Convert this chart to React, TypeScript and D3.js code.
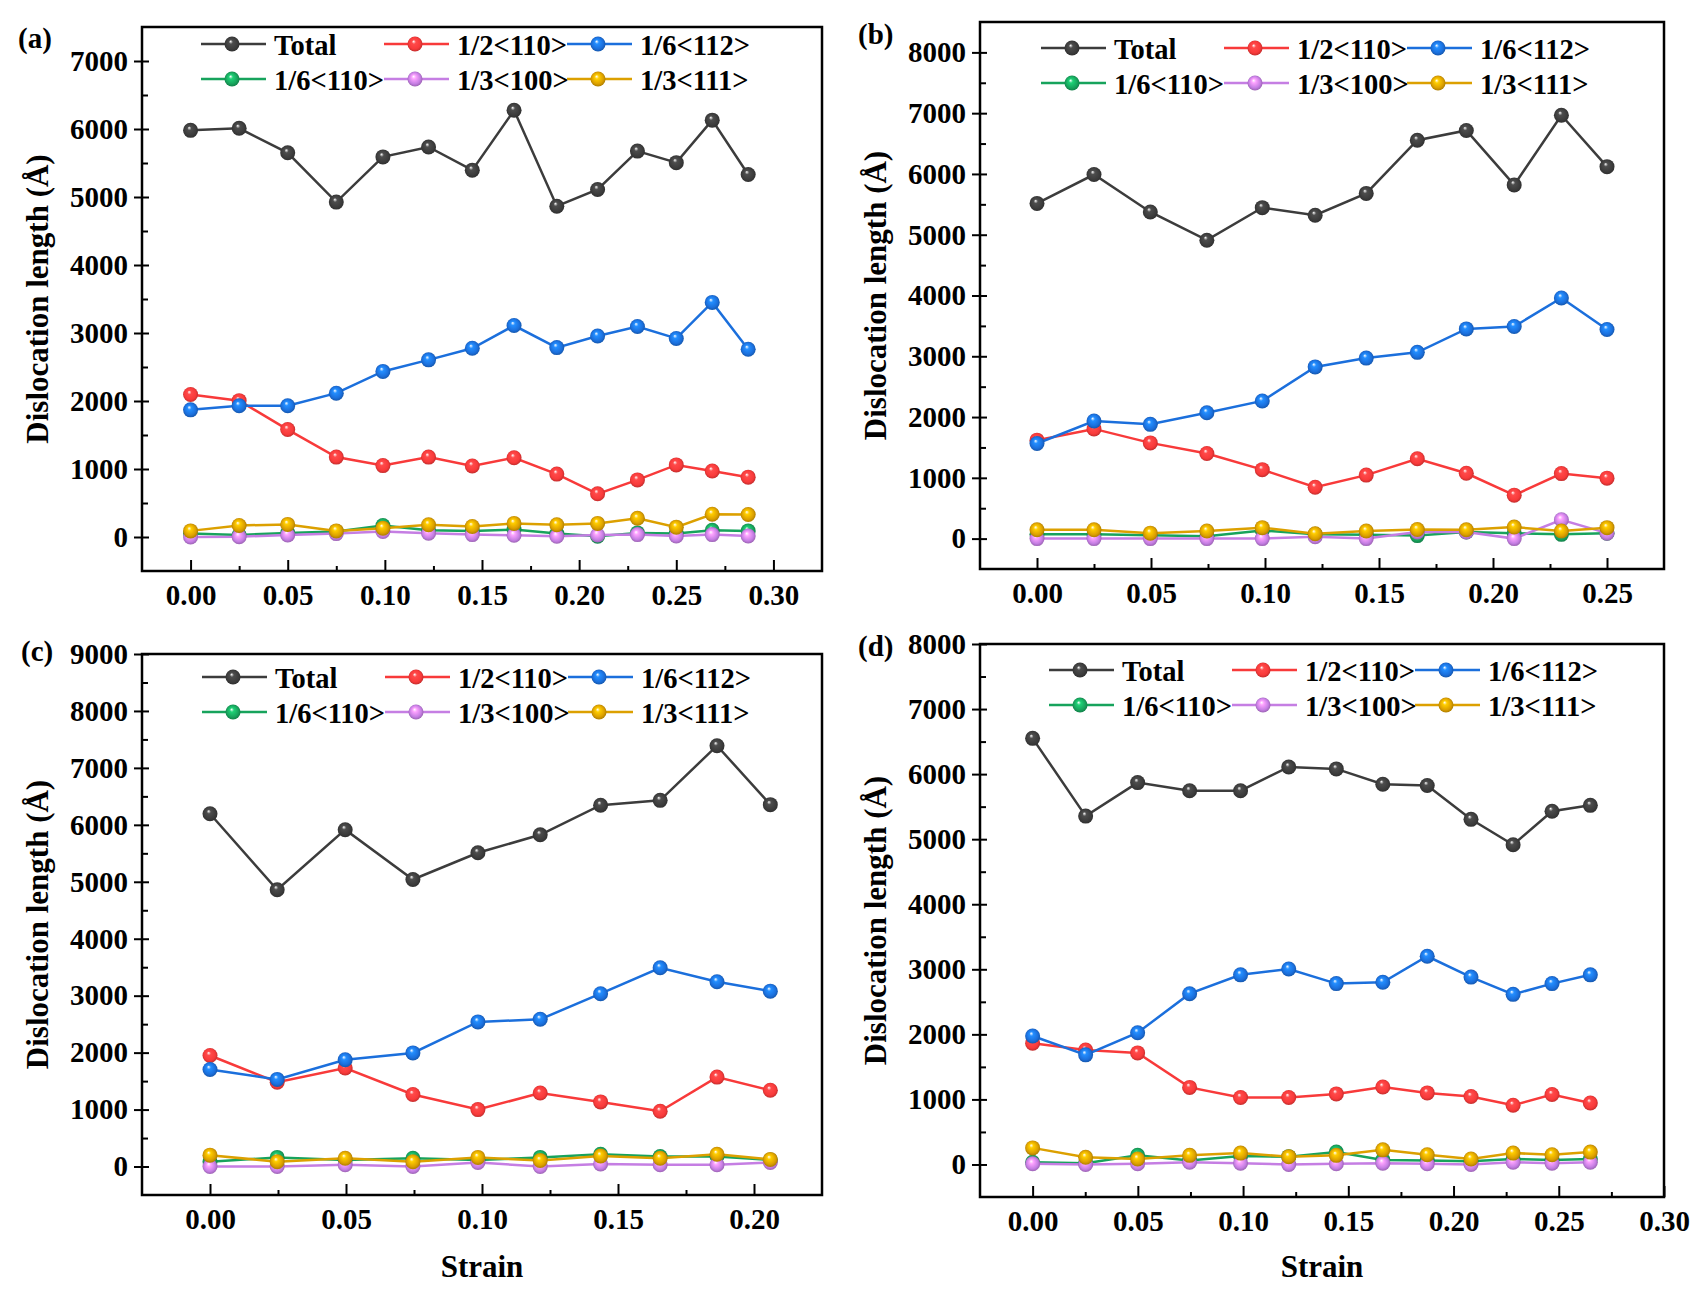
import { useEffect, useRef } from "react";
import * as d3 from "d3";

// ---- data ----
const seriesNames = ["Total", "1/2<110>", "1/6<112>", "1/6<110>", "1/3<100>", "1/3<111>"];
const seriesColors = ["#3c3c3c", "#f83a3a", "#1b6fdc", "#17a35c", "#c57ee3", "#dca000"];

const strainA = [0, 0.025, 0.05, 0.075, 0.099, 0.1225, 0.145, 0.1665, 0.1885, 0.2095, 0.23, 0.25, 0.2685, 0.287];
const totalA = [5980, 6010, 5650, 4925, 5590, 5735, 5395, 6275, 4865, 5110, 5675, 5505, 6130, 5330];
const half110A = [2095, 2005, 1580, 1175, 1050, 1175, 1045, 1165, 925, 635, 840, 1060, 970, 880];
const sixth112A = [1870, 1930, 1930, 2115, 2435, 2605, 2775, 3110, 2785, 2955, 3095, 2920, 3450, 2760];
const sixth110A = [50, 30, 60, 80, 170, 100, 90, 110, 50, 10, 60, 50, 100, 90];
const third100A = [0, 5, 30, 50, 80, 55, 35, 25, 10, 30, 35, 15, 35, 15];
const third111A = [90, 170, 185, 90, 130, 180, 155, 200, 180, 200, 275, 145, 335, 330];

const strainB = [0, 0.025, 0.0497, 0.0745, 0.0988, 0.122, 0.1444, 0.1668, 0.1883, 0.2093, 0.23, 0.25];
const totalB = [5515, 5990, 5375, 4910, 5445, 5320, 5680, 6555, 6715, 5820, 6965, 6120];
const half110B = [1620, 1805, 1575, 1400, 1135, 845, 1045, 1315, 1075, 715, 1070, 995];
const sixth112B = [1565, 1935, 1880, 2070, 2265, 2825, 2970, 3065, 3450, 3490, 3960, 3440];
const sixth110B = [70, 70, 55, 40, 135, 70, 65, 50, 110, 90, 70, 90];
const third100B = [0, 0, 0, 0, 0, 30, 0, 110, 110, 0, 310, 90];
const third111B = [145, 145, 90, 125, 180, 80, 125, 150, 145, 190, 125, 180];

const strainC = [0, 0.0247, 0.0497, 0.0746, 0.0985, 0.1214, 0.1436, 0.1655, 0.1864, 0.206];
const totalC = [6195, 4860, 5915, 5040, 5510, 5825, 6345, 6430, 7390, 6355];
const half110C = [1950, 1480, 1730, 1265, 1000, 1290, 1135, 970, 1570, 1340];
const sixth112C = [1705, 1530, 1875, 1995, 2540, 2585, 3035, 3490, 3245, 3080];
const sixth110C = [85, 160, 115, 145, 115, 160, 215, 175, 175, 115];
const third100C = [0, 0, 30, 0, 70, 0, 45, 30, 30, 70];
const third111C = [200, 85, 145, 85, 160, 105, 185, 145, 215, 125];

const strainD = [0, 0.0252, 0.0499, 0.0746, 0.0988, 0.1217, 0.1443, 0.1664, 0.1875, 0.2083, 0.2283, 0.2468, 0.265];
const totalD = [6550, 5355, 5870, 5745, 5745, 6110, 6080, 5845, 5825, 5305, 4915, 5430, 5520];
const half110D = [1865, 1760, 1715, 1185, 1030, 1030, 1085, 1190, 1100, 1045, 910, 1075, 945];
const sixth112D = [1975, 1685, 2025, 2625, 2915, 3005, 2780, 2800, 3200, 2880, 2615, 2780, 2915];
const sixth110D = [35, 20, 140, 60, 130, 120, 190, 70, 60, 50, 85, 70, 85];
const third100D = [10, 0, 10, 35, 20, 0, 10, 20, 10, 0, 35, 20, 35];
const third111D = [255, 110, 85, 140, 175, 120, 140, 225, 150, 85, 175, 150, 190];

const xTicksA = [0, 0.05, 0.1, 0.15, 0.2, 0.25, 0.3];
const xTicksB = [0, 0.05, 0.1, 0.15, 0.2, 0.25];
const xTicksC = [0, 0.05, 0.1, 0.15, 0.2];
const xTicksD = [0, 0.05, 0.1, 0.15, 0.2, 0.25, 0.3];
const yTicksA = [0, 1000, 2000, 3000, 4000, 5000, 6000, 7000];
const yTicksB = [0, 1000, 2000, 3000, 4000, 5000, 6000, 7000, 8000];
const yTicksC = [0, 1000, 2000, 3000, 4000, 5000, 6000, 7000, 8000, 9000];
const yTicksD = [0, 1000, 2000, 3000, 4000, 5000, 6000, 7000, 8000];

const panels = [
	{
		tag: "(a)", strain: strainA, values: [totalA, half110A, sixth112A, sixth110A, third100A, third111A],
		xDomain: [-0.025, 0.325], yDomain: [-500, 7500], xTicks: xTicksA, yTicks: yTicksA,
		box: { left: 142, top: 27, right: 822, bottom: 571 },
		legend: { x: 201, rows: [44, 79] }, tagPos: [18, 39], strainLabel: false,
	},
	{
		tag: "(b)", strain: strainB, values: [totalB, half110B, sixth112B, sixth110B, third100B, third111B],
		xDomain: [-0.025, 0.275], yDomain: [-500, 8500], xTicks: xTicksB, yTicks: yTicksB,
		box: { left: 980, top: 22, right: 1664, bottom: 569 },
		legend: { x: 1041, rows: [48, 83] }, tagPos: [858, 35], strainLabel: false,
	},
	{
		tag: "(c)", strain: strainC, values: [totalC, half110C, sixth112C, sixth110C, third100C, third111C],
		xDomain: [-0.025, 0.225], yDomain: [-500, 9000], xTicks: xTicksC, yTicks: yTicksC,
		box: { left: 142, top: 654, right: 822, bottom: 1195 },
		legend: { x: 202, rows: [677, 712] }, tagPos: [21, 652], strainLabel: true,
	},
	{
		tag: "(d)", strain: strainD, values: [totalD, half110D, sixth112D, sixth110D, third100D, third111D],
		xDomain: [-0.025, 0.3], yDomain: [-500, 8000], xTicks: xTicksD, yTicks: yTicksD,
		box: { left: 980, top: 644, right: 1664, bottom: 1197 },
		legend: { x: 1049, rows: [670, 705] }, tagPos: [858, 647], strainLabel: true,
	},
];

const W = 1706;
const H = 1302;
const FONT = "'Times New Roman', 'Liberation Serif', serif";

export default function App() {
	const svgRef = useRef<SVGSVGElement>(null);

	useEffect(() => {
		document.body.style.margin = "0";
		if (!svgRef.current) return;
		const svg = d3.select(svgRef.current);
		svg.selectAll("*").remove();

		svg.append("rect").attr("width", W).attr("height", H).attr("fill", "white");

		// glossy ball markers
		const defs = svg.append("defs");
		seriesColors.forEach((c, i) => {
			const g = defs
				.append("radialGradient")
				.attr("id", `ball-${i}`)
				.attr("cx", "50%")
				.attr("cy", "50%")
				.attr("r", "55%")
				.attr("fx", "40%")
				.attr("fy", "32%");
			g.append("stop").attr("offset", "0%").attr("stop-color", "#ffffff");
			g.append("stop").attr("offset", "25%").attr("stop-color", d3.color(c)!.brighter(0.7).formatHex());
			g.append("stop").attr("offset", "70%").attr("stop-color", c);
			g.append("stop").attr("offset", "100%").attr("stop-color", d3.color(c)!.darker(0.9).formatHex());
		});

		for (const p of panels) {
			const { left, top, right, bottom } = p.box;
			const x = d3.scaleLinear().domain(p.xDomain).range([left, right]);
			const y = d3.scaleLinear().domain(p.yDomain).range([bottom, top]);
			const g = svg.append("g");

			const styleAxis = (sel: d3.Selection<SVGGElement, unknown, null, undefined>) => {
				sel.select(".domain").remove();
				sel.selectAll(".tick line").attr("stroke", "#000").attr("stroke-width", 2);
				sel.selectAll(".tick text")
					.attr("fill", "#000")
					.attr("font-family", FONT)
					.attr("font-weight", "bold")
					.attr("font-size", 29);
			};

			// y minor ticks (inside)
			const yMinor = d3.range(500, p.yDomain[1], 1000);
			g.append("g")
				.attr("transform", `translate(${left},0)`)
				.call(d3.axisLeft(y).tickValues(yMinor).tickSize(-6).tickFormat(() => ""))
				.call(styleAxis);
			// y major ticks cross the frame: inner half
			g.append("g")
				.attr("transform", `translate(${left},0)`)
				.call(d3.axisLeft(y).tickValues(p.yTicks).tickSize(-7).tickFormat(() => ""))
				.call(styleAxis);
			// outer half + labels
			g.append("g")
				.attr("transform", `translate(${left},0)`)
				.call(d3.axisLeft(y).tickValues(p.yTicks).tickSize(8).tickPadding(6).tickFormat(d3.format("d")))
				.call(styleAxis);

			// x minor
			const xMinor = p.xTicks.map((t) => t + 0.025).filter((t) => t < p.xDomain[1] - 1e-9);
			g.append("g")
				.attr("transform", `translate(0,${bottom})`)
				.call(d3.axisBottom(x).tickValues(xMinor).tickSize(-5).tickFormat(() => ""))
				.call(styleAxis);
			// x major
			g.append("g")
				.attr("transform", `translate(0,${bottom})`)
				.call(d3.axisBottom(x).tickValues(p.xTicks).tickSize(-11).tickPadding(13).tickFormat(d3.format(".2f")))
				.call(styleAxis);

			// frame
			g.append("rect")
				.attr("x", left)
				.attr("y", top)
				.attr("width", right - left)
				.attr("height", bottom - top)
				.attr("fill", "none")
				.attr("stroke", "#000")
				.attr("stroke-width", 2.5);

			// series
			p.values.forEach((vals, si) => {
				const pts = vals.map((v, i) => [p.strain[i], v] as [number, number]);
				const line = d3
					.line<[number, number]>()
					.x((d) => x(d[0]))
					.y((d) => y(d[1]));
				g.append("path")
					.datum(pts)
					.attr("fill", "none")
					.attr("stroke", seriesColors[si])
					.attr("stroke-width", 2.5)
					.attr("d", line);
				g.selectAll(null)
					.data(pts)
					.join("circle")
					.attr("cx", (d) => x(d[0]))
					.attr("cy", (d) => y(d[1]))
					.attr("r", 7.5)
					.attr("fill", `url(#ball-${si})`);
			});

			// legend
			seriesNames.forEach((name, si) => {
				const lx = p.legend.x + (si % 3) * 183;
				const ly = p.legend.rows[Math.floor(si / 3)];
				const lg = g.append("g");
				lg.append("line")
					.attr("x1", lx)
					.attr("x2", lx + 65)
					.attr("y1", ly)
					.attr("y2", ly)
					.attr("stroke", seriesColors[si])
					.attr("stroke-width", 2.5);
				lg.append("circle")
					.attr("cx", lx + 31)
					.attr("cy", ly)
					.attr("r", 7.5)
					.attr("fill", `url(#ball-${si})`);
				lg.append("text")
					.attr("x", lx + 73)
					.attr("y", ly)
					.attr("dy", "0.38em")
					.attr("font-family", FONT)
					.attr("font-weight", "bold")
					.attr("font-size", 28.5)
					.text(name);
			});

			// panel tag
			svg.append("text")
				.attr("x", p.tagPos[0])
				.attr("y", p.tagPos[1])
				.attr("dy", "0.3em")
				.attr("font-family", FONT)
				.attr("font-weight", "bold")
				.attr("font-size", 29)
				.text(p.tag);

			// y title
			svg.append("text")
				.attr("transform", `translate(${left - 94},${(top + bottom) / 2}) rotate(-90)`)
				.attr("text-anchor", "middle")
				.attr("font-family", FONT)
				.attr("font-weight", "bold")
				.attr("font-size", 31)
				.text("Dislocation length (Å)");

			if (p.strainLabel) {
				svg.append("text")
					.attr("x", (left + right) / 2)
					.attr("y", 1277)
					.attr("text-anchor", "middle")
					.attr("font-family", FONT)
					.attr("font-weight", "bold")
					.attr("font-size", 31)
					.text("Strain");
			}
		}
	}, []);

	return <svg ref={svgRef} width={W} height={H} style={{ display: "block" }} />;
}
